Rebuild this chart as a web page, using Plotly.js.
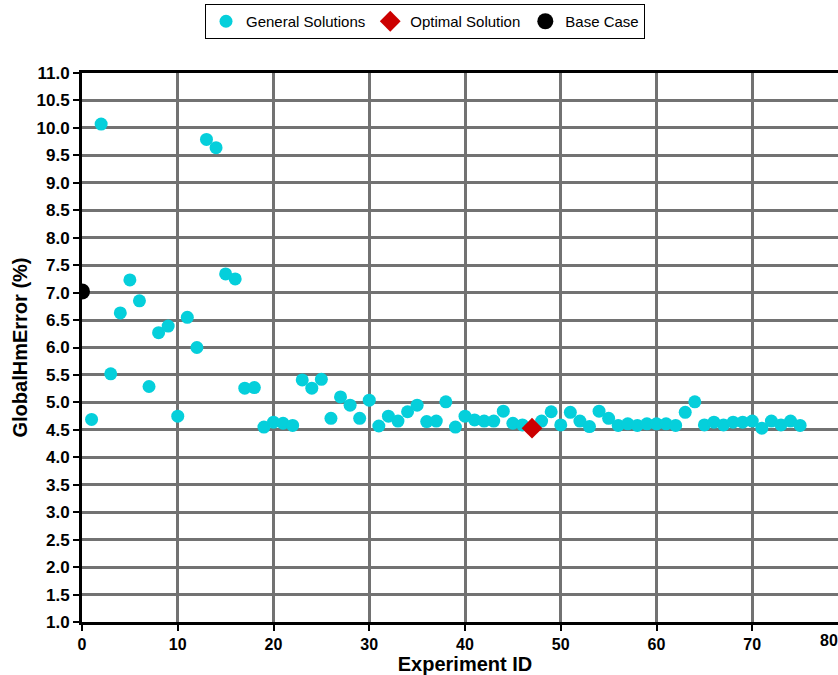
<!DOCTYPE html>
<html>
<head>
<meta charset="utf-8">
<script src="https://cdn.plot.ly/plotly-3.0.1.min.js"></script>
<style>
html,body{margin:0;padding:0;overflow:hidden;background:#fff;width:838px;height:675px;}
#chart{width:848px;height:675px;}
</style>
</head>
<body>
<div id="chart"></div>
<script>
// General solutions: experiment IDs and GlobalHmError (%)
const generalIds = [1,2,3,4,5,6,7,8,9,10,11,12,13,14,15,16,17,18,19,20,
  21,22,23,24,25,26,27,28,29,30,31,32,33,34,35,36,37,38,39,40,
  41,42,43,44,45,46,48,49,50,51,52,53,54,55,56,57,58,59,60,
  61,62,63,64,65,66,67,68,69,70,71,72,73,74,75];
const generalErr = [4.69,10.07,5.52,6.63,7.23,6.85,5.29,6.27,6.39,4.75,6.55,6.00,9.79,9.64,7.34,7.25,5.26,5.27,4.55,4.64,
  4.62,4.58,5.41,5.26,5.42,4.71,5.10,4.95,4.71,5.04,4.57,4.75,4.66,4.83,4.95,4.65,4.66,5.01,4.55,4.75,
  4.68,4.66,4.66,4.84,4.62,4.59,4.66,4.83,4.59,4.82,4.66,4.56,4.84,4.71,4.58,4.61,4.58,4.61,4.61,
  4.61,4.58,4.82,5.01,4.59,4.64,4.59,4.64,4.64,4.66,4.53,4.66,4.59,4.66,4.58];
const optimalId = [47];
const optimalErr = [4.53];
const baseId = [0];
const baseErr = [7.02];
const yTickVals = [1.0,1.5,2.0,2.5,3.0,3.5,4.0,4.5,5.0,5.5,6.0,6.5,7.0,7.5,8.0,8.5,9.0,9.5,10.0,10.5,11.0];
const xTickVals = [0,10,20,30,40,50,60,70];

const FONT = 'Liberation Sans, Arial, sans-serif';

const traces = [
  {x: generalIds, y: generalErr, type:'scatter', mode:'markers', name:'General Solutions',
   marker:{color:'#05cfdb', size:13}, cliponaxis:false},
  {x: optimalId, y: optimalErr, type:'scatter', mode:'markers', name:'Optimal Solution',
   marker:{color:'#cc0000', size:16, symbol:'diamond'}, cliponaxis:false},
  {x: baseId, y: baseErr, type:'scatter', mode:'markers', name:'Base Case',
   marker:{color:'#000000', size:16}, cliponaxis:true}
];

const layout = {
  width: 848, height: 675,
  margin: {l:82, r:0, t:72.5, b:52.7},
  paper_bgcolor:'#fff', plot_bgcolor:'#fff',
  font: {family: FONT, color:'#000'},
  showlegend: true,
  legend: {
    orientation:'h', xref:'container', yref:'container',
    x: 425/848, xanchor:'center', y: 1-4/675, yanchor:'top',
    bordercolor:'#000', borderwidth:1, bgcolor:'#fff',
    font:{family: FONT, size:15, color:'#000'},
    itemsizing:'trace', itemwidth:30
  },
  xaxis: {
    range:[0,80], tickvals: xTickVals, ticktext: xTickVals.map(String),
    showgrid:true, gridcolor:'#727272', gridwidth:3,
    showline:true, linecolor:'#000', linewidth:3, mirror:true,
    ticks:'outside', ticklen:6, tickwidth:2, tickcolor:'#000',
    zeroline:false,
    tickfont:{family: FONT, size:16, color:'#000', weight:'bold'},
    title:{text:'Experiment ID', font:{family: FONT, size:20, color:'#000', weight:'bold'}, standoff:12}
  },
  yaxis: {
    range:[1,11], tickvals: yTickVals, ticktext: yTickVals.map(v=>v.toFixed(1)),
    showgrid:true, gridcolor:'#727272', gridwidth:3,
    showline:true, linecolor:'#000', linewidth:3, mirror:true,
    ticks:'outside', ticklen:6, tickwidth:2, tickcolor:'#000',
    zeroline:false,
    tickfont:{family: FONT, size:17, color:'#000', weight:'bold'},
    title:{text:'GlobalHmError (%)', font:{family: FONT, size:20, color:'#000', weight:'bold'}, standoff:4}
  },
  annotations: [
    {xref:'paper', yref:'paper', x:(829-82)/766, y:0, yshift:-18, xanchor:'center', yanchor:'middle',
     text:'<b>80</b>', showarrow:false, font:{family: FONT, size:16, color:'#000', weight:'bold'}}
  ]
};

Plotly.newPlot('chart', traces, layout, {displayModeBar:false, staticPlot:true});
</script>
</body>
</html>
